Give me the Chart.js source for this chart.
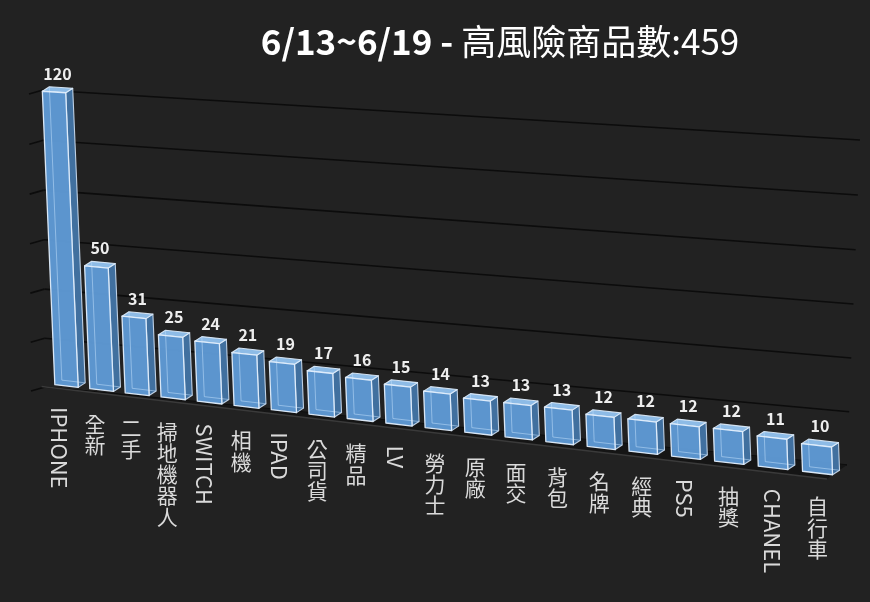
<!DOCTYPE html>
<html>
<head>
<meta charset="utf-8">
<script src="https://cdn.jsdelivr.net/npm/chart.js@4.4.0/dist/chart.umd.min.js"></script>
<style>
  html, body { margin: 0; padding: 0; background: #222222; }
  #wrap { width: 870px; height: 602px; position: relative; }
</style>
</head>
<body>
<div id="wrap"><canvas id="c"></canvas></div>
<script>
// ---- data ----
const titleBold = '6/13~6/19 - ';
const titleRest = '高風險商品數:459';
const categories = ['IPHONE','全新','二手','掃地機器人','SWITCH','相機','IPAD','公司貨','精品','LV','勞力士','原廠','面交','背包','名牌','經典','PS5','抽獎','CHANEL','自行車'];
const counts = [120,50,31,25,24,21,19,17,16,15,14,13,13,13,12,12,12,12,11,10];
const yTicks = [0,20,40,60,80,100,120];

// ---- perspective helpers (visual projection of the flat chart) ----
function makeHomography(p0, p1, p2, p3) {
  // maps unit square (u,v): (0,0)->p0, (1,0)->p1, (1,1)->p2, (0,1)->p3
  const [x0,y0]=p0,[x1,y1]=p1,[x2,y2]=p2,[x3,y3]=p3;
  const dx1=x1-x2, dx2=x3-x2, dx3=x0-x1+x2-x3;
  const dy1=y1-y2, dy2=y3-y2, dy3=y0-y1+y2-y3;
  const den = dx1*dy2 - dx2*dy1;
  const g = (dx3*dy2 - dx2*dy3)/den;
  const h = (dx1*dy3 - dx3*dy1)/den;
  const a = x1-x0+g*x1, b = x3-x0+h*x3, c = x0;
  const d = y1-y0+g*y1, e = y3-y0+h*y3, f = y0;
  return (u, v) => {
    const w = g*u + h*v + 1;
    return [(a*u + b*v + c)/w, (d*u + e*v + f)/w];
  };
}
const frontPlane = makeHomography([66.5,386],[817.5,473],[805,140],[54,92]);
const wallPlane  = makeHomography([45,387],[847,465],[860,140],[43,90]);
const DEPTH = [7,-4.5];

function poly(ctx, pts, fill, stroke, lw) {
  ctx.beginPath();
  ctx.moveTo(pts[0][0], pts[0][1]);
  for (let i=1;i<pts.length;i++) ctx.lineTo(pts[i][0], pts[i][1]);
  ctx.closePath();
  if (fill) { ctx.fillStyle = fill; ctx.fill(); }
  if (stroke) { ctx.strokeStyle = stroke; ctx.lineWidth = lw || 1; ctx.lineJoin='round'; ctx.stroke(); }
}
const add = (p, q) => [p[0]+q[0], p[1]+q[1]];

const perspectivePlugin = {
  id: 'perspective3d',
  beforeDraw(chart) {
    const ctx = chart.ctx;
    ctx.save();
    ctx.fillStyle = '#222222';
    ctx.fillRect(0, 0, chart.width, chart.height);
    ctx.restore();
  },
  afterDraw(chart) {
    const ctx = chart.ctx;
    const xs = chart.scales.x, ys = chart.scales.y;
    const meta = chart.getDatasetMeta(0);
    const n = categories.length;
    const xFirst = xs.getPixelForValue(0), xLast = xs.getPixelForValue(n-1);
    const uOf = px => (px - xFirst) / (xLast - xFirst);
    const yZero = ys.getPixelForValue(0), yMax = ys.getPixelForValue(ys.max);
    const vOf = py => (yZero - py) / (yZero - yMax);

    ctx.save();
    // wall gridlines + tick marks
    yTicks.forEach(t => {
      const v = vOf(ys.getPixelForValue(t));
      const a = wallPlane(0, v), b = wallPlane(1, v);
      ctx.beginPath();
      ctx.moveTo(a[0], a[1]); ctx.lineTo(b[0], b[1]);
      ctx.strokeStyle = '#0c0c0c'; ctx.lineWidth = 1.6; ctx.stroke();
      ctx.beginPath();
      ctx.moveTo(a[0], a[1]); ctx.lineTo(a[0]-14, a[1]+4);
      ctx.stroke();
    });
    // floor
    const uPad = 0.6/(n-1);
    const fl = frontPlane(-uPad, 0), fr = frontPlane(1+uPad*0.35, 0);
    const bl = wallPlane(0,0), br = wallPlane(1,0);
    const flD = [fl[0]-4, fl[1]+3], frD = [fr[0], fr[1]+5];
    poly(ctx, [bl, br, frD, flD], '#151515', null);
    ctx.beginPath();
    ctx.moveTo(flD[0], flD[1]); ctx.lineTo(frD[0], frD[1]);
    ctx.strokeStyle = '#3a3a3a'; ctx.lineWidth = 1.5; ctx.stroke();

    // bars
    meta.data.forEach((el, i) => {
      const uc = uOf(el.x);
      const hw = (el.width/2) / (xLast - xFirst);
      const vt = vOf(el.y);
      const FLB = frontPlane(uc-hw, 0), FRB = frontPlane(uc+hw, 0);
      const FRT = frontPlane(uc+hw, vt), FLT = frontPlane(uc-hw, vt);
      const BLB = add(FLB, DEPTH), BRB = add(FRB, DEPTH), BRT = add(FRT, DEPTH), BLT = add(FLT, DEPTH);
      // side and top faces
      poly(ctx, [FRB, FRT, BRT, BRB], '#41709f', 'rgba(215,232,250,0.85)', 1.1);
      poly(ctx, [FLT, FRT, BRT, BLT], '#8dbbe6', 'rgba(225,238,252,0.9)', 1.1);
      // front face
      poly(ctx, [FLB, FRB, FRT, FLT], 'rgba(94,153,212,0.97)', null);
      // back edges seen through
      ctx.beginPath();
      ctx.moveTo(BLT[0], BLT[1]); ctx.lineTo(BLB[0], BLB[1]); ctx.lineTo(BRB[0], BRB[1]);
      ctx.strokeStyle = 'rgba(190,220,250,0.55)'; ctx.lineWidth = 1; ctx.stroke();
      poly(ctx, [FLB, FRB, FRT, FLT], null, 'rgba(225,238,252,0.95)', 1.3);

      // value label
      ctx.font = 'bold 16px "Noto Sans CJK TC", "Noto Sans", sans-serif';
      ctx.fillStyle = '#eeeeee';
      ctx.textAlign = 'center';
      ctx.textBaseline = 'bottom';
      const lx = (FLT[0]+FRT[0])/2 + DEPTH[0]/2;
      const ly = Math.min(FLT[1], FRT[1]) + DEPTH[1] - 5;
      ctx.fillText(String(counts[i]), lx, ly);

      // category label (vertical)
      const base = frontPlane(uc, 0);
      const cx = base[0] - 7*(1-uc);
      const top = base[1] + 21;
      const label = categories[i];
      ctx.fillStyle = '#dadada';
      if (/^[\x00-\x7F]+$/.test(label)) {
        ctx.save();
        ctx.translate(cx, top);
        ctx.rotate(Math.PI/2);
        ctx.font = '22px "Noto Sans CJK TC", "Noto Sans", sans-serif';
        ctx.textAlign = 'left';
        ctx.textBaseline = 'middle';
        ctx.fillText(label, 0, 0);
        ctx.restore();
      } else {
        ctx.font = '21px "Noto Sans CJK TC", sans-serif';
        ctx.textAlign = 'center';
        ctx.textBaseline = 'top';
        Array.from(label).forEach((ch, k) => ctx.fillText(ch, cx, top + 2 + k*21.2));
      }
    });

    // title
    ctx.textBaseline = 'alphabetic';
    ctx.textAlign = 'left';
    const fBold = 'bold 35px "Noto Sans CJK TC", sans-serif';
    const fReg = '35px "Noto Sans CJK TC", sans-serif';
    ctx.font = fBold; const w1 = ctx.measureText(titleBold).width;
    ctx.font = fReg; const w2 = ctx.measureText(titleRest).width;
    const tx = 500 - (w1+w2)/2;
    ctx.fillStyle = '#ffffff';
    ctx.font = fBold; ctx.fillText(titleBold, tx, 55);
    ctx.font = fReg; ctx.fillText(titleRest, tx + w1, 55);
    ctx.restore();
  }
};

new Chart(document.getElementById('c'), {
  type: 'bar',
  data: {
    labels: categories,
    datasets: [{
      label: '高風險商品數',
      data: counts,
      backgroundColor: 'rgba(0,0,0,0)',
      borderWidth: 0,
      barPercentage: 0.67,
      categoryPercentage: 1.0
    }]
  },
  options: {
    responsive: true,
    maintainAspectRatio: false,
    animation: false,
    events: [],
    layout: { padding: 0 },
    plugins: { legend: { display: false }, tooltip: { enabled: false }, title: { display: false } },
    scales: {
      x: { display: false, offset: true },
      y: { display: false, min: 0, max: 120, ticks: { stepSize: 20 } }
    }
  },
  plugins: [perspectivePlugin]
});
</script>
</body>
</html>
